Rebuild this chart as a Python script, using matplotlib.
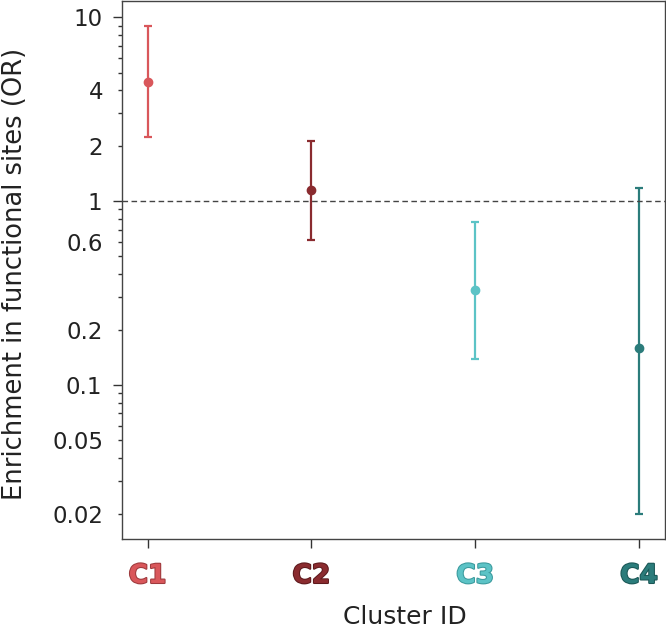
import matplotlib
matplotlib.use("Agg")
import matplotlib.pyplot as plt
from matplotlib.ticker import FixedLocator, FuncFormatter
import matplotlib.patheffects as pe

# --- data ---
clusters = ["C1", "C2", "C3", "C4"]
odds_ratio = [4.44, 1.15, 0.33, 0.158]
ci_low = [2.22, 0.617, 0.138, 0.0199]
ci_high = [8.94, 2.12, 0.766, 1.185]
colors = ["#d9575b", "#8a2b2f", "#5cc3c6", "#2b7c7b"]
edge_colors = ["#9e3a3d", "#5e1a1d", "#3b9a9d", "#1b5756"]

major_ticks = [0.1, 1, 10]
minor_ticks = [0.02, 0.03, 0.04, 0.05, 0.06, 0.07, 0.08, 0.09,
               0.2, 0.3, 0.4, 0.5, 0.6, 0.7, 0.8, 0.9,
               2, 3, 4, 5, 6, 7, 8, 9]
minor_labels = {0.02: "0.02", 0.05: "0.05", 0.2: "0.2", 0.6: "0.6", 2: "2", 4: "4"}

plt.rcParams["font.family"] = "DejaVu Sans"
text_color = "#222222"

fig = plt.figure(figsize=(6.66, 6.33), dpi=100)
ax = fig.add_axes([0.183, 0.149, 0.815, 0.849])

for i in range(len(clusters)):
    ax.errorbar(i, odds_ratio[i],
                yerr=[[odds_ratio[i] - ci_low[i]], [ci_high[i] - odds_ratio[i]]],
                fmt="o", color=colors[i], ecolor=colors[i], markersize=6,
                elinewidth=1.6, capsize=3, capthick=1.6)

ax.axhline(1, color="#444444", linestyle="--", linewidth=1, dashes=(4, 2.5))

ax.set_yscale("log")
ax.set_ylim(0.0146, 12.2)
ax.set_xlim(-0.157, 3.157)

ax.yaxis.set_major_locator(FixedLocator(major_ticks))
ax.yaxis.set_major_formatter(FuncFormatter(lambda v, p: f"{v:g}"))
ax.yaxis.set_minor_locator(FixedLocator(minor_ticks))
ax.yaxis.set_minor_formatter(FuncFormatter(
    lambda v, p: minor_labels.get(round(v, 3), "")))

ax.tick_params(axis="y", which="major", length=6.5, width=1, labelsize=16.5,
               colors="#333333", labelcolor=text_color, pad=7.5)
ax.tick_params(axis="y", which="minor", length=3, width=1, labelsize=16.5,
               colors="#333333", labelcolor=text_color, pad=10.5)

ax.set_xticks(range(len(clusters)))
ax.set_xticklabels(clusters)
ax.tick_params(axis="x", length=6.5, width=1, colors="#333333", pad=11)
for lab, c, ec in zip(ax.get_xticklabels(), colors, edge_colors):
    lab.set_color(c)
    lab.set_fontsize(19)
    lab.set_fontweight("heavy")
    lab.set_path_effects([pe.withStroke(linewidth=1.5, foreground=ec)])

for s in ax.spines.values():
    s.set_color("#444444")
    s.set_linewidth(1)

ax.set_xlabel("Cluster ID", fontsize=18, color=text_color)
ax.xaxis.set_label_coords(0.521, -0.124)
ax.set_ylabel("Enrichment in functional sites (OR)", fontsize=18.5,
              color=text_color)
ax.yaxis.set_label_coords(-0.173, 0.493)

fig.savefig("out.png", dpi=100)
